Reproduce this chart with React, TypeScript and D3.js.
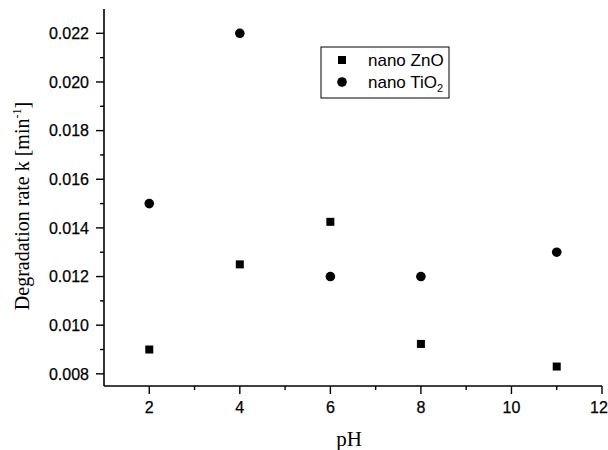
import React from 'react';
import * as d3 from 'd3';

// pH values and degradation rates
const phZnO = [2, 4, 6, 8, 11];
const rateZnO = [0.009, 0.0125, 0.01425, 0.00923, 0.0083];
const phTiO2 = [2, 4, 6, 8, 11];
const rateTiO2 = [0.015, 0.022, 0.012, 0.012, 0.013];

const xMajor = [2, 4, 6, 8, 10, 12];
const xMinor = [3, 5, 7, 9, 11];
const yMajor = [0.008, 0.01, 0.012, 0.014, 0.016, 0.018, 0.02, 0.022];
const yMinor = [0.009, 0.011, 0.013, 0.015, 0.017, 0.019, 0.021];

const W = 608;
const H = 450;
const left = 104;
const right = 602;
const top = 9;
const bottom = 386;

const tickFont = '"Liberation Sans", Arial, sans-serif';
const titleFont = '"Liberation Serif", "Times New Roman", serif';

export default function App() {
  const x = d3.scaleLinear().domain([1, 12]).range([left, right]);
  const y = d3.scaleLinear().domain([0.0075, 0.023]).range([bottom, top]);

  const zno = phZnO.map((p, i) => ({ p, v: rateZnO[i] }));
  const tio2 = phTiO2.map((p, i) => ({ p, v: rateTiO2[i] }));

  const sq = 8;
  const r = 4.8;
  const fs = 16;

  return (
    <svg width={W} height={H} style={{ position: 'absolute', left: 0, top: 0, background: '#fff' }}>
      {/* axes */}
      <line x1={left} x2={left} y1={top} y2={bottom} stroke="#000" strokeWidth={1.6} />
      <line x1={left} x2={right} y1={bottom} y2={bottom} stroke="#000" strokeWidth={1.6} />

      {/* y ticks */}
      {yMajor.map(t => (
        <g key={'ym' + t}>
          <line x1={left - 8} x2={left} y1={y(t)} y2={y(t)} stroke="#000" strokeWidth={1.4} />
          <text x={left - 15} y={y(t)} dy="0.36em" textAnchor="end"
            fontFamily={tickFont} fontSize={fs} stroke="#000" strokeWidth={0.25}>{d3.format('.3f')(t)}</text>
        </g>
      ))}
      {yMinor.map(t => (
        <line key={'yn' + t} x1={left - 4} x2={left} y1={y(t)} y2={y(t)} stroke="#000" strokeWidth={1.4} />
      ))}

      {/* x ticks */}
      {xMajor.map(t => (
        <g key={'xm' + t}>
          <line x1={x(t)} x2={x(t)} y1={bottom} y2={bottom + 8} stroke="#000" strokeWidth={1.4} />
          <text x={t === 12 ? x(t) - 3 : x(t)} y={bottom + 27} textAnchor="middle"
            fontFamily={tickFont} fontSize={fs} stroke="#000" strokeWidth={0.25}>{t}</text>
        </g>
      ))}
      {xMinor.map(t => (
        <line key={'xn' + t} x1={x(t)} x2={x(t)} y1={bottom} y2={bottom + 4} stroke="#000" strokeWidth={1.4} />
      ))}

      {/* data */}
      {zno.map(d => (
        <rect key={'z' + d.p} x={x(d.p) - sq / 2} y={y(d.v) - sq / 2} width={sq} height={sq} fill="#000" />
      ))}
      {tio2.map(d => (
        <circle key={'t' + d.p} cx={x(d.p)} cy={y(d.v)} r={r} fill="#000" />
      ))}

      {/* legend */}
      <rect x={321} y={47} width={128} height={51} fill="#fff" stroke="#000" strokeWidth={1} />
      <rect x={342 - sq / 2} y={60 - sq / 2} width={sq} height={sq} fill="#000" />
      <circle cx={342} cy={82} r={r} fill="#000" />
      <text x={368} y={60} dy="0.36em" fontFamily={tickFont} fontSize={17}>nano ZnO</text>
      <text x={368} y={82} dy="0.36em" fontFamily={tickFont} fontSize={17}>
        nano TiO<tspan fontSize={11} dy="4">2</tspan>
      </text>

      {/* axis titles */}
      <text x={349} y={446} textAnchor="middle" fontFamily={titleFont} fontSize={21}>pH</text>
      <text transform="translate(29, 206) rotate(-90)" textAnchor="middle"
        fontFamily={titleFont} fontSize={20}>
        Degradation rate k [min<tspan fontSize={12} dy="-8">-1</tspan><tspan dy="8">]</tspan>
      </text>
    </svg>
  );
}
